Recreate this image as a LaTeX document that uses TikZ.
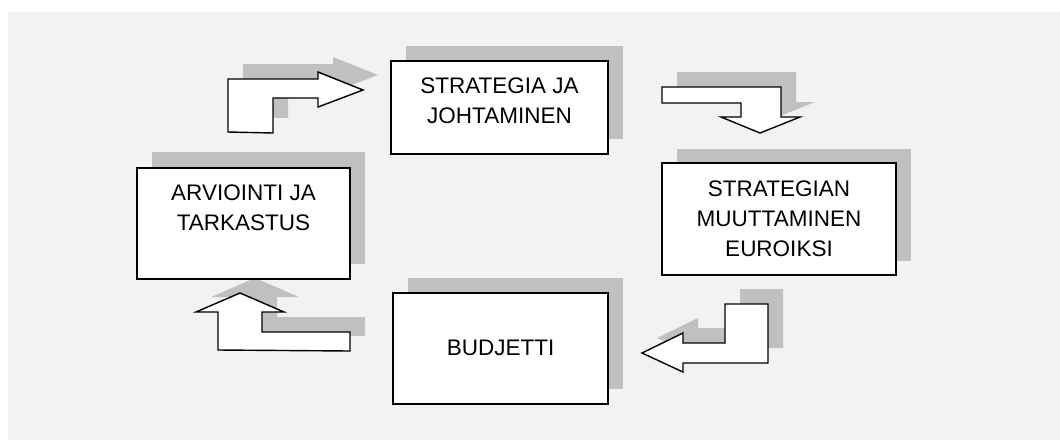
\documentclass[tikz,border=0pt]{standalone}
\usepackage{fontspec}
\setmainfont{Liberation Sans}
\definecolor{bgc}{RGB}{242,242,242}
\definecolor{shd}{RGB}{192,192,192}
\tikzset{
  shadowfill/.style={fill=shd, draw=none},
  boxshape/.style={draw=black, fill=white, line width=1.5pt, rectangle, inner sep=0pt},
  blockarrow/.style={draw=black, fill=white, line width=1.4pt, line join=miter},
  lbl/.style={font=\fontsize{22.5}{30}\selectfont, align=center, inner sep=0pt},
}
\begin{document}
\begin{tikzpicture}[x=1pt,y=-1pt]
\useasboundingbox (0,0) rectangle (1060,440);
\fill[bgc] (8,12) rectangle (1060,440);

% box shadows
\fill[shadowfill] (406,46) rectangle (623,139);
\fill[shadowfill] (152,152) rectangle (365,264);
\fill[shadowfill] (677,149) rectangle (911,261);
\fill[shadowfill] (408,278) rectangle (623,389);

% arrow shadows (offset +15,-15)
\begin{scope}[shift={(15,-15)}]
\fill[shadowfill] (228,132) -- (228,79) -- (318,79) -- (318,72) -- (363,90) -- (318,107) -- (318,98) -- (273,98) -- (273,133) -- cycle;
\fill[shadowfill] (662,87) -- (781,87) -- (781,117) -- (800,117) -- (760,133) -- (721,117) -- (741,117) -- (741,103) -- (662,103) -- cycle;
\fill[shadowfill] (725,304) -- (768,304) -- (768,363) -- (683,363) -- (683,372) -- (642,353) -- (683,333) -- (683,343) -- (725,343) -- cycle;
\fill[shadowfill] (218,350) -- (218,312) -- (196,312) -- (240,293) -- (284,312) -- (262,312) -- (262,332) -- (350,332) -- (350,351) -- cycle;
\end{scope}

% boxes
\node[boxshape, minimum width=217pt, minimum height=93pt] (sj) at (499.5,107.5) {};
\node[boxshape, minimum width=213pt, minimum height=111pt] (at) at (243.5,223.5) {};
\node[boxshape, minimum width=234pt, minimum height=112pt] (sm) at (779,219) {};
\node[boxshape, minimum width=215pt, minimum height=111pt] (bu) at (500.5,348.5) {};

% labels
\node[lbl] (sjt) at (499.5,100.5) {STRATEGIA JA\\JOHTAMINEN};
\node[lbl] (att) at (243.5,207.5) {ARVIOINTI JA\\TARKASTUS};
\node[lbl] (smt) at (779,219) {STRATEGIAN\\MUUTTAMINEN\\EUROIKSI};
\node[lbl] (but) at (500.5,348) {BUDJETTI};

% block arrows
\draw[blockarrow] (228,132) -- (228,79) -- (318,79) -- (318,72) -- (363,90) -- (318,107) -- (318,98) -- (273,98) -- (273,133) -- cycle;
\draw[blockarrow] (662,87) -- (781,87) -- (781,117) -- (800,117) -- (760,133) -- (721,117) -- (741,117) -- (741,103) -- (662,103) -- cycle;
\draw[blockarrow] (725,304) -- (768,304) -- (768,363) -- (683,363) -- (683,372) -- (642,353) -- (683,333) -- (683,343) -- (725,343) -- cycle;
\draw[blockarrow] (218,350) -- (218,312) -- (196,312) -- (240,293) -- (284,312) -- (262,312) -- (262,332) -- (350,332) -- (350,351) -- cycle;
\end{tikzpicture}
\end{document}
